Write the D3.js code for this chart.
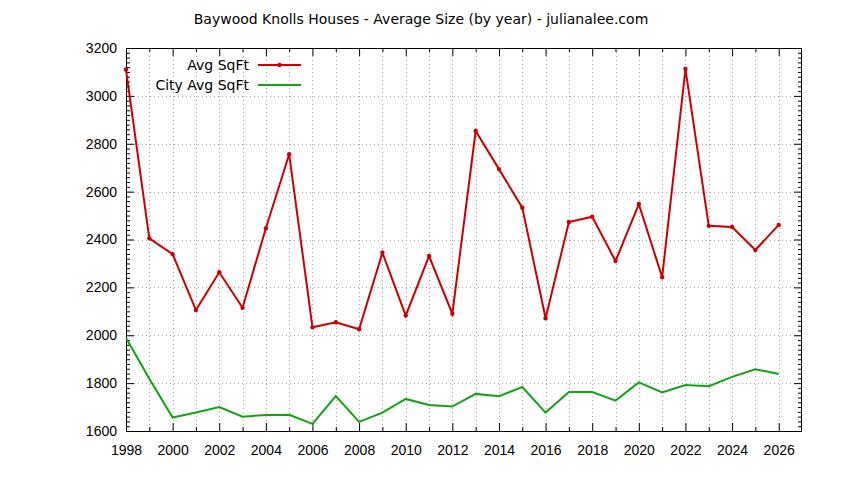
<!DOCTYPE html>
<html>
<head>
<meta charset="utf-8">
<script src="https://cdn.jsdelivr.net/npm/d3@7"></script>
<style>
  body { margin: 0; background: #fff; }
  svg { font-family: "DejaVu Sans", sans-serif; }
</style>
</head>
<body>
<svg id="chart" width="844" height="480"></svg>
<script>
// values
const years = [1998, 1999, 2000, 2001, 2002, 2003, 2004, 2005, 2006, 2007,
  2008, 2009, 2010, 2011, 2012, 2013, 2014, 2015, 2016, 2017,
  2018, 2019, 2020, 2021, 2022, 2023, 2024, 2025, 2026];
const avgSqFt = [3110, 2405, 2339, 2105, 2263, 2115, 2447, 2756, 2033, 2054,
  2025, 2345, 2082, 2331, 2090, 2853, 2694, 2533, 2071, 2473,
  2495, 2310, 2548, 2242, 3112, 2457, 2452, 2356, 2461];
const cityAvgSqFt = [1990, 1818, 1656, 1677, 1700, 1660, 1667, 1668, 1630, 1746,
  1638, 1677, 1734, 1709, 1702, 1755, 1745, 1784, 1677, 1763,
  1763, 1727, 1803, 1761, 1792, 1787, 1826, 1858, 1838];
const xTickLabels = d3.range(1998, 2027, 2);
const yTickLabels = d3.range(1600, 3201, 200);
const seriesNames = ["Avg SqFt", "City Avg SqFt"];
const seriesColors = ["#cc0000", "#14a314"];

const svg = d3.select("#chart");
const margin = {left: 126, right: 42, top: 48, bottom: 49};
const W = 844, H = 480;

const x = d3.scaleLinear().domain([1998, 2027]).range([margin.left, W - margin.right]);
const y = d3.scaleLinear().domain([1600, 3200]).range([H - margin.bottom, margin.top]);

// grid
const grid = svg.append("g")
  .attr("stroke", "#a8a8a8")
  .attr("stroke-width", 1)
  .attr("stroke-dasharray", "1,3");
grid.selectAll(".gx")
  .data(d3.range(1999, 2027))
  .enter().append("line")
  .attr("x1", d => Math.round(x(d)) + 0.5)
  .attr("x2", d => Math.round(x(d)) + 0.5)
  .attr("y1", y(3200))
  .attr("y2", y(1600));
grid.selectAll(".gy")
  .data(yTickLabels.slice(1, -1))
  .enter().append("line")
  .attr("y1", d => Math.round(y(d)) + 0.5)
  .attr("y2", d => Math.round(y(d)) + 0.5)
  .attr("x1", x(1998))
  .attr("x2", x(2027));

// axes, gnuplot style: ticks pointing inwards on all four sides
const minorX = d3.range(1999, 2027, 2);
const minorY = d3.range(1600, 3201, 20).filter(v => v % 200 !== 0);
const MAJOR = 8, MINOR = 4;

const axes = [
  svg.append("g")
    .attr("transform", `translate(0,${y(1600)})`)
    .call(d3.axisBottom(x).tickValues(xTickLabels).tickSize(-MAJOR)
      .tickFormat(d3.format("d")).tickPadding(14)),
  svg.append("g")
    .attr("transform", `translate(0,${y(1600)})`)
    .call(d3.axisBottom(x).tickValues(minorX).tickSize(-MINOR).tickFormat("")),
  svg.append("g")
    .attr("transform", `translate(0,${y(3200)})`)
    .call(d3.axisTop(x).tickValues(xTickLabels).tickSize(-MAJOR).tickFormat("")),
  svg.append("g")
    .attr("transform", `translate(0,${y(3200)})`)
    .call(d3.axisTop(x).tickValues(minorX).tickSize(-MINOR).tickFormat("")),
  svg.append("g")
    .attr("transform", `translate(${x(1998)},0)`)
    .call(d3.axisLeft(y).tickValues(yTickLabels).tickSize(-MAJOR)
      .tickFormat(d3.format("d")).tickPadding(9)),
  svg.append("g")
    .attr("transform", `translate(${x(1998)},0)`)
    .call(d3.axisLeft(y).tickValues(minorY).tickSize(-MINOR).tickFormat("")),
  svg.append("g")
    .attr("transform", `translate(${x(2027)},0)`)
    .call(d3.axisRight(y).tickValues(yTickLabels).tickSize(-MAJOR).tickFormat("")),
  svg.append("g")
    .attr("transform", `translate(${x(2027)},0)`)
    .call(d3.axisRight(y).tickValues(minorY).tickSize(-MINOR).tickFormat(""))
];

axes.forEach(g => {
  g.select(".domain").remove();
  g.selectAll(".tick line").attr("stroke", "#000");
  g.selectAll("text").attr("fill", "#000").style("font-size", "14px");
});

// frame
svg.append("rect")
  .attr("x", x(1998) + 0.5)
  .attr("y", y(3200) + 0.5)
  .attr("width", x(2027) - x(1998) - 1)
  .attr("height", y(1600) - y(3200))
  .attr("fill", "none")
  .attr("stroke", "#000");

// series
const line = d3.line()
  .x((d, i) => x(years[i]))
  .y(d => y(d));

svg.append("path")
  .datum(cityAvgSqFt)
  .attr("fill", "none")
  .attr("stroke", seriesColors[1])
  .attr("stroke-width", 2)
  .attr("d", line);

svg.append("path")
  .datum(avgSqFt)
  .attr("fill", "none")
  .attr("stroke", seriesColors[0])
  .attr("stroke-width", 2)
  .attr("d", line);

svg.selectAll(".pt")
  .data(avgSqFt)
  .enter().append("circle")
  .attr("cx", (d, i) => x(years[i]))
  .attr("cy", d => y(d))
  .attr("r", 2.2)
  .attr("fill", seriesColors[0]);

// legend
const legend = svg.append("g");
seriesNames.forEach((name, i) => {
  const ly = 65 + i * 20;
  legend.append("text")
    .attr("x", 249)
    .attr("y", ly)
    .attr("dy", "0.35em")
    .attr("text-anchor", "end")
    .style("font-size", "14px")
    .text(name);
  legend.append("line")
    .attr("x1", 258).attr("x2", 301)
    .attr("y1", ly).attr("y2", ly)
    .attr("stroke", seriesColors[i])
    .attr("stroke-width", 2);
  if (i === 0) {
    legend.append("circle")
      .attr("cx", 279.5).attr("cy", ly).attr("r", 2.2)
      .attr("fill", seriesColors[0]);
  }
});

// title
svg.append("text")
  .attr("x", 421)
  .attr("y", 19)
  .attr("dy", "0.35em")
  .attr("text-anchor", "middle")
  .style("font-size", "14px")
  .text("Baywood Knolls Houses - Average Size (by year) - julianalee.com");
</script>
</body>
</html>
